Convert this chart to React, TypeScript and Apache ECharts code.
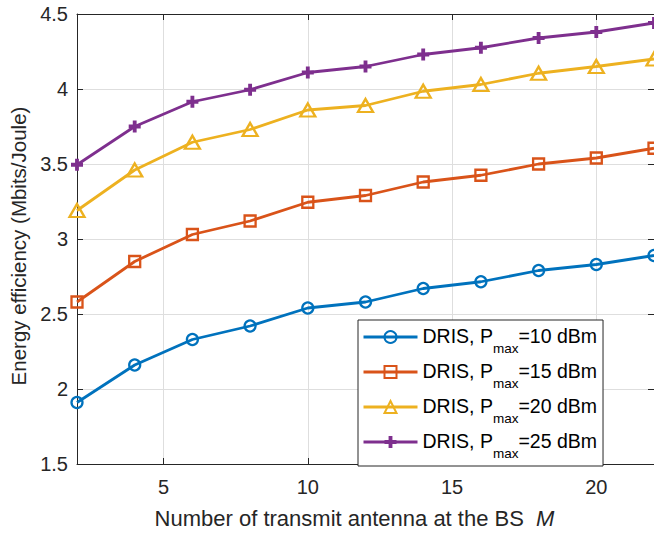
import React, { useEffect, useRef } from "react";
import * as echarts from "echarts";

const antennas = [2, 4, 6, 8, 10, 12, 14, 16, 18, 20, 22];
const pmax10 = [1.91, 2.16, 2.33, 2.42, 2.54, 2.58, 2.67, 2.715, 2.79, 2.83, 2.89];
const pmax15 = [2.58, 2.85, 3.03, 3.12, 3.245, 3.29, 3.38, 3.425, 3.5, 3.54, 3.605];
const pmax20 = [3.19, 3.46, 3.645, 3.73, 3.86, 3.89, 3.985, 4.03, 4.105, 4.15, 4.2];
const pmax25 = [3.495, 3.75, 3.915, 3.995, 4.11, 4.15, 4.23, 4.275, 4.34, 4.38, 4.44];
const seriesNames = ["10", "15", "20", "25"];
const xTicks = [5, 10, 15, 20];

const COLORS = ["#0072BD", "#D95319", "#EDB120", "#7E2F8E"];
const AXIS = "#262626";
const GRID = "#dedede";
const FONT = "'Liberation Sans', Arial, Helvetica, sans-serif";
const PLUS = "path://M3.4,0H6.6V3.4H10V6.6H6.6V10H3.4V6.6H0V3.4H3.4Z";

export default function App() {
  const ref = useRef<HTMLDivElement>(null);
  useEffect(() => {
    if (!ref.current) return;
    const chart = echarts.init(ref.current, undefined, { renderer: "svg" });
    const all = [pmax10, pmax15, pmax20, pmax25];
    const symbols = ["circle", "rect", "triangle", PLUS];
    const sizes: any[] = [11, 11, [15, 13], 12];
    const series = all.map((vals, i) => ({
      name: `DRIS, P_${seriesNames[i]}`,
      type: "line",
      xAxisIndex: 0,
      yAxisIndex: 0,
      data: antennas.map((x, k) => [x, vals[k]]),
      symbol: symbols[i],
      symbolSize: sizes[i],
      showAllSymbol: true,
      clip: false,
      lineStyle: { color: COLORS[i], width: 2.8 },
      itemStyle:
        i === 3
          ? { color: COLORS[i], borderWidth: 0 }
          : { color: "rgba(255,255,255,0)", borderColor: COLORS[i], borderWidth: 2.3 },
      z: 3 + i,
    }));
    const xBase = {
      type: "value",
      min: 2,
      max: 22,
      axisLine: { show: true, lineStyle: { color: AXIS, width: 1 } },
      axisTick: { show: true, inside: true, length: 6, customValues: xTicks, lineStyle: { color: AXIS } },
    };
    const yBase = {
      type: "value",
      min: 1.5,
      max: 4.5,
      interval: 0.5,
      axisLine: { show: true, lineStyle: { color: AXIS, width: 1 } },
      axisTick: { show: true, inside: true, length: 6, lineStyle: { color: AXIS } },
    };
    chart.setOption({
      animation: false,
      backgroundColor: "#ffffff",
      textStyle: { fontFamily: FONT },
      grid: { left: 77, right: -3, top: 14, bottom: 69, containLabel: false },
      xAxis: [
        {
          ...xBase,
          position: "bottom",
          name: "{a|Number of transmit antenna at the BS  }{m|M}",
          nameLocation: "middle",
          nameGap: 43,
          nameTextStyle: {
            padding: [0, 22, 0, 0],
            rich: {
              a: { fontSize: 22, color: AXIS, fontFamily: FONT },
              m: { fontSize: 22, color: AXIS, fontStyle: "italic", fontFamily: FONT },
            },
          },
          axisLabel: { show: true, customValues: xTicks, margin: 13, fontSize: 20, color: AXIS, fontFamily: FONT },
          splitLine: { show: true, lineStyle: { color: GRID, width: 1 } },
        },
        {
          ...xBase,
          position: "top",
          axisLabel: { show: false },
          splitLine: { show: false },
        },
      ],
      yAxis: [
        {
          ...yBase,
          position: "left",
          name: "Energy efficiency (Mbits/Joule)",
          nameLocation: "middle",
          nameGap: 44,
          nameTextStyle: { fontSize: 20.5, color: AXIS, fontFamily: FONT, padding: [0, 14, 0, 0] },
          axisLabel: { show: true, margin: 9, fontSize: 20, color: AXIS, fontFamily: FONT },
          splitLine: { show: true, lineStyle: { color: GRID, width: 1 } },
        },
        {
          ...yBase,
          position: "right",
          axisLabel: { show: false },
          splitLine: { show: false },
        },
      ],
      legend: {
        orient: "vertical",
        left: 358,
        top: 320,
        padding: [6, 6, 6, 4],
        itemGap: 6,
        itemWidth: 54,
        itemHeight: 15,
        backgroundColor: "#ffffff",
        borderColor: AXIS,
        borderWidth: 1,
        borderRadius: 0,
        lineStyle: { width: 3 },
        formatter: (name: string) => {
          const v = name.split("_")[1];
          return `{a|DRIS, P}{s|max}{a|=${v} dBm}`;
        },
        textStyle: {
          padding: [0, 0, 0, 0],
          rich: {
            a: { fontSize: 19.5, lineHeight: 22, verticalAlign: "top", color: "#000000", fontFamily: FONT },
            s: { fontSize: 13.5, lineHeight: 13, verticalAlign: "top", padding: [15, 0, 0, 0], color: "#000000", fontFamily: FONT },
          },
        },
        data: all.map((_, i) => `DRIS, P_${seriesNames[i]}`),
      },
      series,
    });
    return () => chart.dispose();
  }, []);
  return (
    <div
      ref={ref}
      style={{ position: "fixed", left: 0, top: 0, width: 654, height: 534, background: "#ffffff" }}
    />
  );
}
